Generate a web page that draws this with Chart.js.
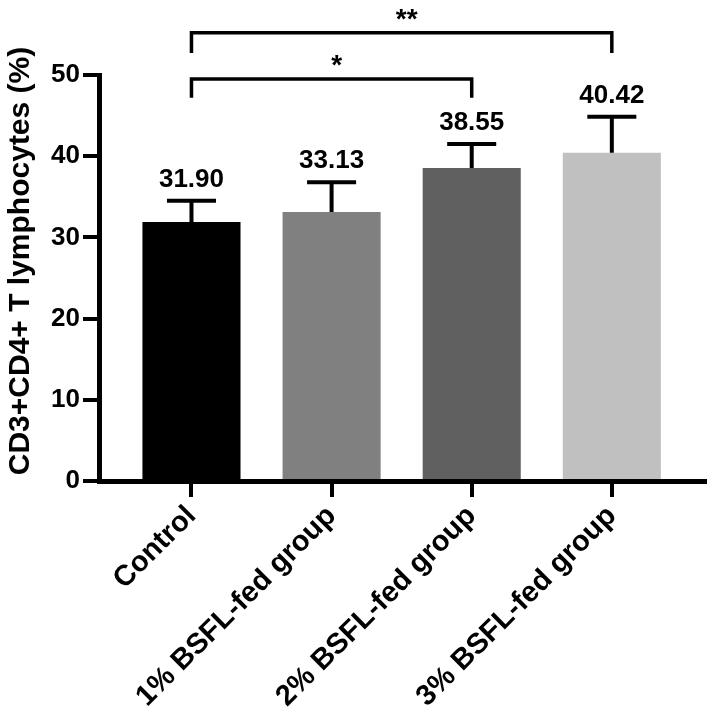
<!DOCTYPE html>
<html>
<head>
<meta charset="utf-8">
<script src="https://cdn.jsdelivr.net/npm/chart.js@4.4.1/dist/chart.umd.min.js"></script>
<style>
  html, body { margin: 0; padding: 0; background: #ffffff; }
  #wrap { position: relative; width: 708px; height: 723px; }
</style>
</head>
<body>
<div id="wrap"><canvas id="c" width="708" height="723"></canvas></div>
<script>
// ---- data ----
const categories = ['Control', '1% BSFL-fed group', '2% BSFL-fed group', '3% BSFL-fed group'];
const means = [31.90, 33.13, 38.55, 40.42];
const sds = [2.6, 3.65, 2.95, 4.45];
const valueLabels = ['31.90', '33.13', '38.55', '40.42'];
const barColors = ['#000000', '#808080', '#606060', '#c0c0c0'];
const yTicks = [0, 10, 20, 30, 40, 50];
const yTitle = 'CD3+CD4+ T lymphocytes (%)';
// significance brackets
const bracketFrom = [0, 0];
const bracketTo = [2, 3];
const bracketLevel = [49.5, 55.2];
const bracketTip = [47.2, 52.7];
const bracketText = ['*', '**'];

const FONT = '"Liberation Sans", Arial, Helvetica, sans-serif';

const overlay = {
  id: 'overlay',
  afterDraw(chart) {
    const ctx = chart.ctx;
    ctx.save();
    ctx.fillStyle = '#000';
    ctx.font = 'bold 30px ' + FONT;
    ctx.textAlign = 'center';
    ctx.textBaseline = 'middle';
    ctx.translate(21, 261);
    ctx.rotate(-Math.PI / 2);
    ctx.fillText(yTitle, 0, 0);
    ctx.restore();
  },
  afterDatasetsDraw(chart) {
    const ctx = chart.ctx;
    const ys = chart.scales.y, xs = chart.scales.x;
    const meta = chart.getDatasetMeta(0);
    ctx.save();
    ctx.strokeStyle = '#000';
    ctx.fillStyle = '#000';
    ctx.lineWidth = 4;
    ctx.lineCap = 'butt';
    meta.data.forEach((el, i) => {
      const top = ys.getPixelForValue(means[i] + sds[i]);
      const capHalf = el.width / 4;
      ctx.beginPath();
      ctx.moveTo(el.x, el.y);
      ctx.lineTo(el.x, top);
      ctx.moveTo(el.x - capHalf, top);
      ctx.lineTo(el.x + capHalf, top);
      ctx.stroke();
      ctx.font = 'bold 26px ' + FONT;
      ctx.textAlign = 'center';
      ctx.textBaseline = 'alphabetic';
      ctx.fillText(valueLabels[i], el.x, top - 14);
    });
    ctx.lineWidth = 3.5;
    bracketFrom.forEach((f, k) => {
      const x1 = xs.getPixelForValue(f);
      const x2 = xs.getPixelForValue(bracketTo[k]);
      const yL = ys.getPixelForValue(bracketLevel[k]);
      const yT = ys.getPixelForValue(bracketTip[k]);
      ctx.beginPath();
      ctx.moveTo(x1, yT);
      ctx.lineTo(x1, yL);
      ctx.lineTo(x2, yL);
      ctx.lineTo(x2, yT);
      ctx.stroke();
      ctx.font = 'bold 28px ' + FONT;
      ctx.textAlign = 'center';
      ctx.textBaseline = 'alphabetic';
      ctx.fillText(bracketText[k], (x1 + x2) / 2 + 5, yL - 5);
    });
    ctx.restore();
  }
};

new Chart(document.getElementById('c'), {
  type: 'bar',
  data: {
    datasets: [{
      data: means.map((v, i) => ({ x: i, y: v })),
      backgroundColor: barColors,
      borderWidth: 0,
      barPercentage: 0.7,
      categoryPercentage: 1.0
    }]
  },
  options: {
    responsive: false,
    animation: false,
    events: [],
    layout: { padding: { left: 0, right: 3, top: 75, bottom: 0 } },
    plugins: { legend: { display: false }, tooltip: { enabled: false } },
    scales: {
      x: {
        type: 'linear',
        offset: false,
        min: -0.66,
        max: 3.665,
        afterBuildTicks: s => { s.ticks = categories.map((_, i) => ({ value: i })); },
        afterFit: s => { s.height = 242; },
        ticks: {
          callback: v => categories[v],
          minRotation: 45,
          maxRotation: 45,
          color: '#000',
          padding: 2,
          font: { family: FONT, size: 29, weight: 'bold' }
        },
        grid: { offset: false, drawOnChartArea: false, drawTicks: true, tickLength: 16, lineWidth: 4, color: '#000' },
        border: { display: true, width: 5, color: '#000' }
      },
      y: {
        min: 0,
        max: 50,
        afterBuildTicks: s => { s.ticks = yTicks.map(v => ({ value: v })); },
        afterFit: s => { s.width = 99; },
        ticks: {
          color: '#000',
          padding: 3,
          font: { family: FONT, size: 26, weight: 'bold' }
        },
        grid: { drawOnChartArea: false, drawTicks: true, tickLength: 16, lineWidth: 4, color: '#000' },
        border: { display: true, width: 5, color: '#000' },
        title: { display: false }
      }
    }
  },
  plugins: [overlay]
});
</script>
</body>
</html>
